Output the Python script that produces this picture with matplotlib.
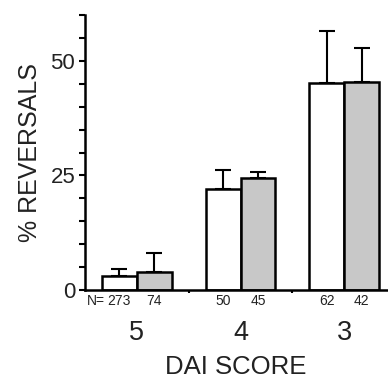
import matplotlib
matplotlib.use("Agg")
import matplotlib.pyplot as plt
import numpy as np

plt.rcParams["font.family"] = ["Liberation Sans", "DejaVu Sans"]

# DAI score groups and the two conditions (white / gray bars)
scores = ["5", "4", "3"]
white_vals = [3.0, 22.1, 45.1]
white_err = [1.5, 4.1, 11.4]
gray_vals = [4.0, 24.4, 45.4]
gray_err = [4.0, 1.4, 7.5]
n_white = ["273", "50", "62"]
n_gray = ["74", "45", "42"]

fig = plt.figure(figsize=(3.88, 3.78), dpi=100)
ax = fig.add_axes([85 / 388, 1 - 290 / 378, 1 - 85 / 388 + 0.01, 275 / 378])

x = np.arange(1, len(scores) + 1)
w = 0.336
ax.bar(x - w / 2, white_vals, w, color="white", edgecolor="black", linewidth=1.8, zorder=2)
ax.bar(x + w / 2, gray_vals, w, color="#c8c8c8", edgecolor="black", linewidth=1.8, zorder=2)
ax.errorbar(x - w / 2, white_vals, yerr=[np.zeros(3), white_err], fmt="none",
            ecolor="black", elinewidth=1.5, capsize=6, capthick=1.5, zorder=1)
ax.errorbar(x + w / 2, gray_vals, yerr=[np.zeros(3), gray_err], fmt="none",
            ecolor="black", elinewidth=1.5, capsize=6, capthick=1.5, zorder=1)

ax.set_xlim(0.5, 3.46)
ax.set_ylim(0, 60)
for s in ["top", "right"]:
    ax.spines[s].set_visible(False)
ax.spines["left"].set_linewidth(1.8)
ax.spines["bottom"].set_linewidth(1.8)

ax.set_yticks([0, 25, 50])
ax.set_yticks(np.arange(0, 61, 5), minor=True)
ax.tick_params(axis="y", which="both", direction="out", length=4, width=1.5,
               labelsize=16, pad=3, labelcolor="#222222")
ax.set_xticks([1.5, 2.5])
ax.set_xticklabels([])
ax.tick_params(axis="x", direction="out", length=2, width=1.5)

# N counts under the axis
ax.text(0.52, -3.3, "N=", ha="left", va="baseline", fontsize=10, color="#222222")
for i in range(len(scores)):
    ax.text(x[i] - w / 2, -3.3, n_white[i], ha="center", va="baseline", fontsize=10, color="#222222")
    ax.text(x[i] + w / 2, -3.3, n_gray[i], ha="center", va="baseline", fontsize=10, color="#222222")
    ax.text(x[i], -10.9, scores[i], ha="center", va="baseline", fontsize=19.5, color="#222222")

ax.text(1.95, -18.4, "DAI SCORE", ha="center", va="baseline", fontsize=18.5, color="#222222")
ax.set_ylabel("% REVERSALS", fontsize=18, labelpad=6, color="#222222")

fig.savefig("out.png", dpi=100)
